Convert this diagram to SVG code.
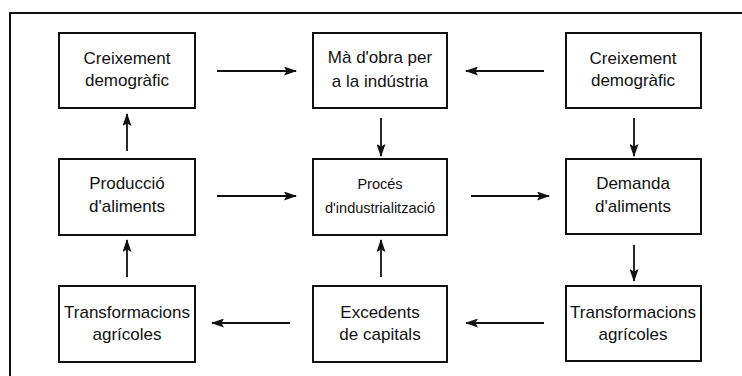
<svg xmlns="http://www.w3.org/2000/svg" width="742" height="376" viewBox="0 0 742 376">
<defs>
<style>
.box{fill:#fff;stroke:#111;stroke-width:2}
.t{font-family:"Liberation Sans",Arial,Helvetica,sans-serif;font-size:17px;fill:#111;text-anchor:middle}
.s{font-size:14.5px}
.c{stroke:#111;stroke-width:1.8;fill:none;marker-end:url(#ah)}
</style>
<marker id="ah" viewBox="0 0 13 9" refX="12" refY="4.5" markerWidth="13" markerHeight="9" markerUnits="userSpaceOnUse" orient="auto">
<path d="M0,0 L13,4.5 L0,9 L2.5,4.5 Z" fill="#111"/>
</marker>
</defs>
<rect width="742" height="376" fill="#fff"/>
<path d="M10,376 L10,13 L742,13" fill="none" stroke="#111" stroke-width="2"/>
<g id="connectors">
<line class="c" x1="217" y1="71" x2="296" y2="71"/>
<line class="c" x1="544" y1="71" x2="466" y2="71"/>
<line class="c" x1="127" y1="151" x2="127" y2="114"/>
<line class="c" x1="381" y1="118" x2="381" y2="156"/>
<line class="c" x1="634" y1="118" x2="634" y2="156"/>
<line class="c" x1="217" y1="196" x2="296" y2="196"/>
<line class="c" x1="471" y1="196" x2="549" y2="196"/>
<line class="c" x1="127" y1="277" x2="127" y2="240"/>
<line class="c" x1="381" y1="277" x2="381" y2="240"/>
<line class="c" x1="634" y1="245" x2="634" y2="281"/>
<line class="c" x1="290" y1="323" x2="212" y2="323"/>
<line class="c" x1="544" y1="323" x2="466" y2="323"/>
</g>
<g id="n1"><rect class="box" x="59" y="33" width="136" height="75"/><text class="t" x="127" y="64">Creixement</text><text class="t" x="127" y="86">demogràfic</text></g>
<g id="n2"><rect class="box" x="313" y="33" width="134" height="75"/><text class="t" x="380" y="63">Mà d'obra per</text><text class="t" x="380" y="87">a la indústria</text></g>
<g id="n3"><rect class="box" x="566" y="33" width="135" height="75"/><text class="t" x="633" y="64">Creixement</text><text class="t" x="633" y="86">demogràfic</text></g>
<g id="n4"><rect class="box" x="59" y="159" width="136" height="76"/><text class="t" x="127" y="189">Producció</text><text class="t" x="127" y="212">d'aliments</text></g>
<g id="n5"><rect class="box" x="313" y="159" width="134" height="76"/><text class="t s" x="380" y="189">Procés</text><text class="t s" x="380" y="213">d'industrialització</text></g>
<g id="n6"><rect class="box" x="566" y="159" width="135" height="75"/><text class="t" x="633" y="189">Demanda</text><text class="t" x="633" y="212">d'aliments</text></g>
<g id="n7"><rect class="box" x="59" y="286" width="136" height="76"/><text class="t" x="127" y="318">Transformacions</text><text class="t" x="127" y="340">agrícoles</text></g>
<g id="n8"><rect class="box" x="313" y="286" width="134" height="76"/><text class="t" x="380" y="318">Excedents</text><text class="t" x="380" y="340">de capitals</text></g>
<g id="n9"><rect class="box" x="566" y="286" width="135" height="75"/><text class="t" x="633" y="318">Transformacions</text><text class="t" x="633" y="340">agrícoles</text></g>
</svg>
